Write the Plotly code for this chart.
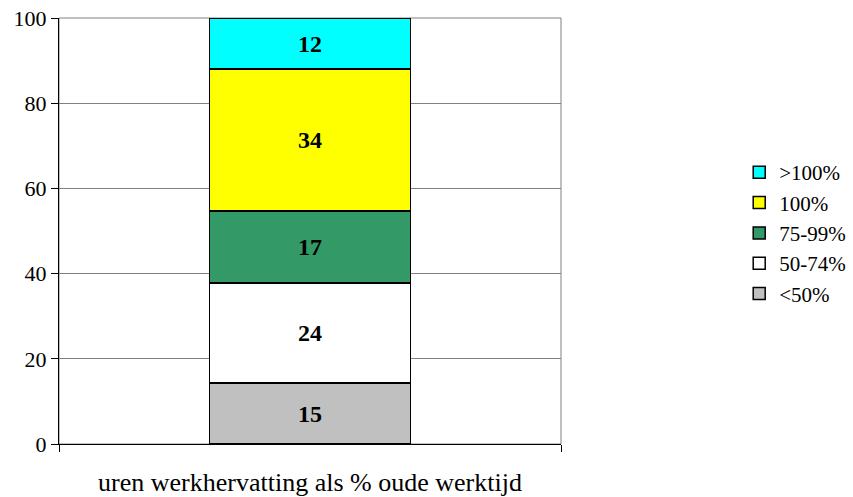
import plotly.graph_objects as go

# categories (stack order bottom -> top)
categories = ["<50%", "50-74%", "75-99%", "100%", ">100%"]
values = [14.3, 23.5, 16.9, 33.3, 12.0]
labels = ["15", "24", "17", "34", "12"]
colors = ["#c0c0c0", "#ffffff", "#339966", "#ffff00", "#00ffff"]
y_ticks = [0, 20, 40, 60, 80, 100]
x_title = "uren werkhervatting als % oude werktijd"

SERIF = "Liberation Serif, Times New Roman, serif"

fig = go.Figure()
for cat, val, lab, col in zip(categories, values, labels, colors):
    fig.add_trace(go.Bar(
        x=[0], y=[val], name=cat, text=[lab],
        textposition="inside", insidetextanchor="middle",
        textfont=dict(family=SERIF, size=24, color="black", weight="bold"),
        marker=dict(color=col, line=dict(color="black", width=1.5)),
        width=0.4,
    ))

fig.update_layout(
    barmode="stack",
    width=853, height=497,
    margin=dict(l=59, r=292, t=18, b=53, autoexpand=False),
    paper_bgcolor="white", plot_bgcolor="white",
    font=dict(family=SERIF, size=22, color="black"),
    legend=dict(x=1.355, y=0.495, xanchor="left", yanchor="middle",
                font=dict(family=SERIF, size=21, color="black"),
                traceorder="reversed", itemwidth=30, tracegroupgap=0),
    uniformtext=dict(mode="show", minsize=24),
    shapes=[dict(type="rect", xref="paper", yref="paper", x0=0, x1=1, y0=0, y1=1,
                 line=dict(color="#808080", width=1), layer="below")],
)
fig.update_xaxes(
    range=[-0.5, 0.5], tickvals=[-0.5, 0.5], ticktext=["", ""],
    ticks="outside", ticklen=7, tickcolor="black",
    showgrid=False, showline=True, linecolor="black", linewidth=1,
    zeroline=False, automargin=False,
    title=dict(text=x_title, font=dict(family=SERIF, size=26), standoff=20),
)
fig.update_yaxes(
    range=[0, 100], tickvals=y_ticks,
    ticks="outside", ticklen=7, tickcolor="black",
    showgrid=True, gridcolor="#808080", gridwidth=1,
    showline=True, linecolor="black", linewidth=1, zeroline=False,
    automargin=False, ticklabeloverflow="allow",
    tickfont=dict(family=SERIF, size=22),
)

# drop the default 8px body margin so the figure fills the window
fig.write_html("out.html", config={"displayModeBar": False},
               post_script="document.body.style.margin='0';")
